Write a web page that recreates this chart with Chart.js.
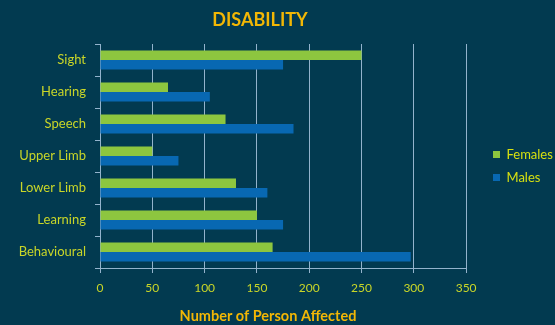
<!DOCTYPE html>
<html>
<head>
<meta charset="utf-8">
<title>Disability</title>
<script src="https://cdn.jsdelivr.net/npm/chart.js@4"></script>
<style>
  html, body { margin: 0; padding: 0; background: #023a50; }
  #wrap { width: 555px; height: 325px; }
</style>
</head>
<body>
<div id="wrap"><canvas id="disabilityChart" width="555" height="325"></canvas></div>
<script>
const categories = ['Sight', 'Hearing', 'Speech', 'Upper Limb', 'Lower Limb', 'Learning', 'Behavioural'];
const females = [250, 65, 120, 50, 130, 150, 165];
const males = [175, 105, 185, 75, 160, 175, 297];
const xTicks = [0, 50, 100, 150, 200, 250, 300, 350];

const chartTitle = 'DISABILITY';
const xTitle = 'Number of Person Affected';

const gridColor = '#93b3cc';
const labelColor = '#c9d628';
const titleColor = '#f2b705';
const fontFamily = 'Lato, "DejaVu Sans", sans-serif';

// headline and axis caption sit a bit left of centre, so they are drawn by hand
const captionPlugin = {
    id: 'captions',
    afterDraw(chart) {
        const c = chart.ctx;
        c.save();
        c.fillStyle = titleColor;
        c.textAlign = 'center';
        c.textBaseline = 'middle';
        c.font = 'bold 18px ' + fontFamily;
        c.fillText(chartTitle, 260, 20);
        c.font = 'bold 14.5px ' + fontFamily;
        c.fillText(xTitle, 268, 316);
        c.restore();
    }
};

// push the legend column further out towards the right edge
const legendShift = {
    id: 'legendShift',
    afterLayout(chart) {
        const lg = chart.legend;
        if (!lg) return;
        const dx = 493 - (lg.left + lg.options.labels.padding);
        lg.left += dx;
        lg.right += dx;
        lg.top -= 4;
        lg.bottom -= 4;
    }
};

const ctx = document.getElementById('disabilityChart').getContext('2d');

new Chart(ctx, {
    type: 'bar',
    data: {
        labels: categories,
        datasets: [
            { label: 'Females', data: females, backgroundColor: '#8dc63f', borderWidth: 0 },
            { label: 'Males', data: males, backgroundColor: '#0868b2', borderWidth: 0 }
        ]
    },
    plugins: [captionPlugin, legendShift],
    options: {
        indexAxis: 'y',
        responsive: false,
        animation: false,
        devicePixelRatio: 1,
        categoryPercentage: 0.6,
        barPercentage: 1.0,
        layout: { padding: { left: 0, right: 9, top: 44, bottom: 29 } },
        plugins: {
            title: { display: false },
            legend: {
                position: 'right',
                labels: {
                    color: '#d6e010',
                    font: { family: fontFamily, size: 13 },
                    boxWidth: 7,
                    boxHeight: 7,
                    padding: 10
                }
            },
            tooltip: { enabled: false }
        },
        scales: {
            x: {
                min: 0,
                max: 350,
                afterBuildTicks(axis) {
                    axis.ticks = xTicks.map(v => ({ value: v }));
                },
                afterFit(axis) {
                    axis.height = 28;
                },
                grid: { color: gridColor, lineWidth: 1, tickLength: 5, tickColor: gridColor },
                border: { color: gridColor },
                ticks: { color: labelColor, font: { family: fontFamily, size: 12 }, padding: 8 }
            },
            y: {
                afterFit(axis) {
                    axis.width = 100;
                },
                grid: { drawOnChartArea: false, tickLength: 5, color: gridColor },
                border: { color: gridColor },
                ticks: { color: labelColor, font: { family: fontFamily, size: 13 }, padding: 9 }
            }
        }
    }
});
</script>
</body>
</html>
